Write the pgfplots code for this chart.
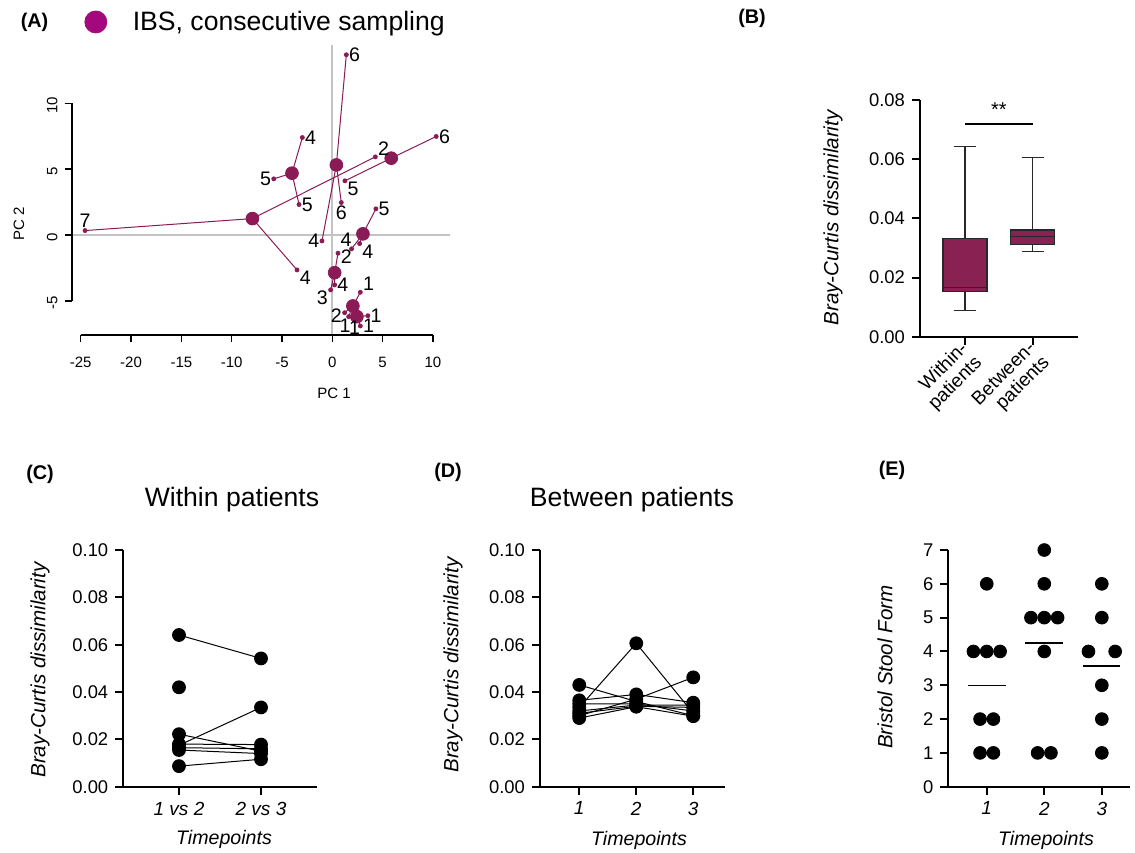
\documentclass[border=0pt]{standalone}
\usepackage{fontspec}
\setmainfont{Liberation Sans}
\usepackage{pgfplots}
\pgfplotsset{compat=1.18}
\usepgfplotslibrary{statistics}
\definecolor{pca}{RGB}{139,27,86}
\definecolor{boxfill}{RGB}{137,33,83}
\definecolor{legdot}{RGB}{163,8,125}
\definecolor{refgray}{RGB}{195,195,195}
\definecolor{boxline}{RGB}{40,40,40}
\newcommand{\fs}[1]{\fontsize{#1}{#1}\selectfont}
\pgfplotsset{
  prism/.style={
    scale only axis, clip=false,
    axis x line=bottom, axis y line=left,
    axis line style={-, line width=1pt, black},
    tick align=outside, major tick length=4pt,
    tick style={line width=1pt, black},
    /pgf/number format/assume math mode=true,
    tick label style={font=\fs{9.2}},
    xticklabel style={font=\itshape\fs{9.5}},
  },
  pts/.style={black, line width=0.5pt, mark=*, mark size=3.2pt, mark options={solid, fill=black}},
}
\begin{document}
\begin{tikzpicture}
\useasboundingbox (0,0) rectangle (567.5pt,-426pt);

% ---------------- Panel A: PCA ----------------
\begin{axis}[at={(40.35pt,-150.35pt)}, anchor=south west, scale only axis,
  width=176.15pt, height=98.7pt, xmin=-25, xmax=10, ymin=-5, ymax=10,
  hide axis, clip=false,
  legend style={draw=none, fill=none, inner sep=0pt, at={(axis description cs:0.0094,1.412)}, anchor=west,
    font=\fs{13.3}},
  ]
\addplot[refgray, line width=1pt, forget plot] coordinates {(0,-7.6) (0,14.45)};
\addplot[refgray, line width=1pt, forget plot] coordinates {(-25.86,0) (11.64,0)};
% spokes centroid -> samples
\addplot[pca, line width=0.5pt, forget plot] coordinates {(0.40,5.32) (1.39,13.69) (0.40,5.32) (0.89,2.46) (0.40,5.32) (-1.03,-0.46)};
\addplot[pca, line width=0.5pt, forget plot] coordinates {(-4.01,4.69) (-2.98,7.40) (-4.01,4.69) (-5.82,4.26) (-4.01,4.69) (-3.31,2.31)};
\addplot[pca, line width=0.5pt, forget plot] coordinates {(5.85,5.83) (10.32,7.48) (5.85,5.83) (1.25,4.11)};
\addplot[pca, line width=0.5pt, forget plot] coordinates {(-7.94,1.24) (-24.57,0.33) (-7.94,1.24) (4.27,5.93) (-7.94,1.24) (-3.51,-2.66)};
\addplot[pca, line width=0.5pt, forget plot] coordinates {(3.04,0.08) (4.33,1.98) (3.04,0.08) (2.71,-0.66) (3.04,0.08) (1.91,-1.06)};
\addplot[pca, line width=0.5pt, forget plot] coordinates {(0.23,-2.87) (0.56,-1.39) (0.23,-2.87) (0.23,-3.80) (0.23,-2.87) (-0.17,-4.18)};
\addplot[pca, line width=0.5pt, forget plot] coordinates {(2.04,-5.40) (2.78,-4.36) (2.04,-5.40) (1.22,-5.91) (2.04,-5.40) (1.62,-6.21)};
\addplot[pca, line width=0.5pt, forget plot] coordinates {(2.44,-6.21) (3.53,-6.14) (2.44,-6.21) (2.78,-6.92) (2.44,-6.21) (2.05,-6.35)};
% centroids
\addplot[only marks, mark=*, mark size=3.2pt, pca,
  legend image code/.code={\fill[legdot] (5.5pt,0pt) circle (5.5pt); \path[draw=none, fill=none] (0pt,-0.1pt) rectangle (22pt,0.1pt);}]
  table {
x y
0.40 5.32
-4.01 4.69
5.85 5.83
-7.94 1.24
3.04 0.08
0.23 -2.87
2.04 -5.40
2.44 -6.21
};
\addlegendentry{IBS, consecutive sampling}
% samples with stool-form labels
\addplot[only marks, mark=*, mark size=1pt, pca, forget plot,
  nodes near coords, point meta=explicit symbolic,
  visualization depends on={value \thisrow{anc}\as\anc},
  every node near coord/.append style={anchor=\anc, text=black, font=\fs{9.8}, inner sep=1.2pt}]
  table[x=x, y=y, meta=lab] {
x y lab anc
1.39 13.69 6 180
0.89 2.46 6 90
-1.03 -0.46 4 0
-2.98 7.40 4 180
-5.82 4.26 5 0
-3.31 2.31 5 180
10.32 7.48 6 180
1.25 4.11 5 135
-24.57 0.33 7 270
4.27 5.93 2 225
-3.51 -2.66 4 135
4.33 1.98 5 180
2.71 -0.66 4 135
1.91 -1.06 4 300
0.56 -1.39 2 160
0.23 -3.80 4 180
-0.17 -4.18 3 45
2.78 -4.36 1 225
1.22 -5.91 2 20
1.62 -6.21 1 70
3.53 -6.14 1 180
2.78 -6.92 1 180
2.05 -6.35 1 100
};
\end{axis}
% Panel A x axis (R style, detached)
\begin{axis}[at={(40.35pt,-167.5pt)}, anchor=south west, scale only axis,
  width=176.15pt, height=10pt, xmin=-25, xmax=10, ymin=0, ymax=1,
  axis x line=bottom, axis y line=none, axis line style={-, line width=0.8pt, black},
  xtick={-25,-20,-15,-10,-5,0,5,10}, xticklabels={-25,-20,-15,-10,-5,0,5,10},
  tick align=outside, major tick length=3.5pt, tick style={black, line width=0.8pt},
  xticklabel style={font=\fs{7.5}, yshift=-4pt}]
\end{axis}
% Panel A y axis
\begin{axis}[at={(35.85pt,-150.35pt)}, anchor=south west, scale only axis,
  width=10pt, height=98.7pt, ymin=-5, ymax=10, xmin=0, xmax=1,
  axis y line=left, axis x line=none, axis line style={-, line width=0.8pt, black},
  ytick={-5,0,5,10}, yticklabels={-5,0,5,10},
  tick align=outside, major tick length=3.5pt, tick style={black, line width=0.8pt},
  yticklabel style={font=\fs{7.5}, rotate=90, anchor=south, xshift=-1pt}]
\end{axis}

% ---------------- Panel B: boxplot ----------------
\begin{axis}[prism, at={(460pt,-168.35pt)}, anchor=south west,
  width=79.15pt, height=118.35pt, xmin=-0.665, xmax=1.674, ymin=0, ymax=0.08,
  ytick={0,0.02,0.04,0.06,0.08}, scaled y ticks=false,
  yticklabel style={/pgf/number format/.cd, fixed, fixed zerofill, precision=2},
  xtick={0,1}, xticklabels={Within-\\patients, Between-\\patients},
  xticklabel style={font=\fontsize{9.5}{10}\selectfont, rotate=45, anchor=east, align=right, xshift=3pt, yshift=-5.5pt},
  boxplot/draw direction=y,
  ]
\addplot[boxplot prepared={draw position=0, lower whisker=0.0088, lower quartile=0.0152,
  median=0.0166, upper quartile=0.0331, upper whisker=0.0642, box extend=0.65, whisker extend=0.33},
  fill=boxfill, draw=boxline, line width=0.7pt] coordinates {};
\addplot[boxplot prepared={draw position=1, lower whisker=0.0289, lower quartile=0.0312,
  median=0.0339, upper quartile=0.0361, upper whisker=0.0605, box extend=0.65, whisker extend=0.33},
  fill=boxfill, draw=boxline, line width=0.7pt] coordinates {};
\addplot[black, line width=0.6pt] coordinates {(0,0.0719) (1,0.0719)};
\node[anchor=base, font=\fs{10}] at (axis cs:0.5,0.0744) {**};
\end{axis}

% ---------------- Panel C ----------------
\begin{axis}[prism, at={(61.65pt,-393.35pt)}, anchor=south west,
  width=96.7pt, height=118.35pt, xmin=-0.679, xmax=1.679, ymin=0, ymax=0.1,
  ytick={0,0.02,0.04,0.06,0.08,0.1}, scaled y ticks=false,
  yticklabel style={/pgf/number format/.cd, fixed, fixed zerofill, precision=2},
  xtick={0,1}, xticklabels={1 vs 2, 2 vs 3}]
\addplot[pts] coordinates {(0,0.0641) (1,0.0542)};
\addplot[pts] coordinates {(0,0.0175) (1,0.0335)};
\addplot[pts] coordinates {(0,0.0222) (1,0.0150)};
\addplot[pts] coordinates {(0,0.0180) (1,0.0178)};
\addplot[pts] coordinates {(0,0.0165) (1,0.0160)};
\addplot[pts] coordinates {(0,0.0155) (1,0.0140)};
\addplot[pts] coordinates {(0,0.0087) (1,0.0116)};
\addplot[pts, only marks] coordinates {(0,0.0420)};
\end{axis}

% ---------------- Panel D ----------------
\begin{axis}[prism, at={(270pt,-393.35pt)}, anchor=south west,
  width=92.3pt, height=118.35pt, xmin=0.311, xmax=3.55, ymin=0, ymax=0.1,
  ytick={0,0.02,0.04,0.06,0.08,0.1}, scaled y ticks=false,
  yticklabel style={/pgf/number format/.cd, fixed, fixed zerofill, precision=2},
  xtick={1,2,3}, xticklabels={1,2,3}]
\addplot[pts] coordinates {(1,0.0335) (2,0.0606) (3,0.0310)};
\addplot[pts] coordinates {(1,0.0430) (2,0.0360) (3,0.0300)};
\addplot[pts] coordinates {(1,0.0300) (2,0.0370) (3,0.0462)};
\addplot[pts] coordinates {(1,0.0365) (2,0.0390) (3,0.0355)};
\addplot[pts] coordinates {(1,0.0320) (2,0.0345) (3,0.0345)};
\addplot[pts] coordinates {(1,0.0310) (2,0.0340) (3,0.0335)};
\addplot[pts] coordinates {(1,0.0290) (2,0.0338) (3,0.0298)};
\addplot[pts] coordinates {(1,0.0350) (2,0.0350) (3,0.0320)};
\end{axis}

% ---------------- Panel E ----------------
\begin{axis}[prism, at={(474.15pt,-393.35pt)}, anchor=south west,
  width=90.85pt, height=118.35pt, xmin=0.332, xmax=3.49, ymin=0, ymax=7,
  ytick={0,1,...,7}, xtick={1,2,3}, xticklabels={1,2,3}]
\addplot[only marks, mark=*, mark size=3.2pt, black] table {
x y
1 6
0.768 4
1 4
1.232 4
0.884 2
1.116 2
0.884 1
1.116 1
2 7
2 6
1.768 5
2 5
2.232 5
2 4
1.884 1
2.116 1
3 6
3 5
2.768 4
3.232 4
3 3
3 2
3 1
};
\addplot[black, line width=0.6pt] coordinates {(0.68,3.0) (1.33,3.0)};
\addplot[black, line width=0.6pt] coordinates {(1.667,4.25) (2.32,4.25)};
\addplot[black, line width=0.6pt] coordinates {(2.67,3.57) (3.32,3.57)};
\end{axis}

% ---------------- Text ----------------
\begin{scope}[x=0.5pt, y=-0.5pt]
\node[font=\bfseries\fs{9.9}] at (34.5,22) {(A)};
\node[font=\fs{7.5}] at (334,393) {PC 1};
\node[font=\fs{7.5}, rotate=90] at (19,224) {PC 2};
\node[font=\bfseries\fs{9.9}] at (752,18) {(B)};
\node[font=\itshape\fs{10.3}, rotate=90] at (833,218) {Bray-Curtis dissimilarity};
\node[font=\bfseries\fs{9.9}] at (40,474) {(C)};
\node[font=\bfseries\fs{9.9}] at (448,472) {(D)};
\node[font=\bfseries\fs{9.9}] at (892,470) {(E)};
\node[font=\fs{13.3}] at (232,500) {Within patients};
\node[font=\fs{13.3}] at (632,500) {Between patients};
\node[font=\itshape\fs{10.3}, rotate=90] at (40,670) {Bray-Curtis dissimilarity};
\node[font=\itshape\fs{10.3}, rotate=90] at (453,665) {Bray-Curtis dissimilarity};
\node[font=\itshape\fs{10.3}, rotate=90] at (885,667) {Bristol Stool Form};
\node[font=\itshape\fs{9.8}] at (224,839) {Timepoints};
\node[font=\itshape\fs{9.8}] at (639,840) {Timepoints};
\node[font=\itshape\fs{9.8}] at (1046,840) {Timepoints};
\end{scope}
\end{tikzpicture}
\end{document}
